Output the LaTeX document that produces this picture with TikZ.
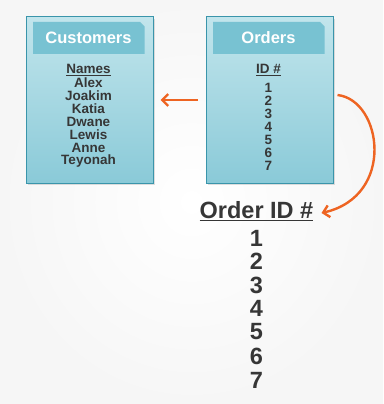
\documentclass[tikz,border=0pt]{standalone}
\usepackage{fontspec}
\setmainfont{Liberation Sans}
\usepackage{xcolor}
\usetikzlibrary{positioning, arrows.meta, calc, shadows}

\definecolor{boxtop}{HTML}{C2E5EC}
\definecolor{boxbot}{HTML}{8ACAD8}
\definecolor{boxline}{HTML}{3A95AB}
\definecolor{headfill}{HTML}{78C2D2}
\definecolor{txtdark}{HTML}{363636}
\definecolor{arrorange}{HTML}{EE6422}

\tikzset{
    tablebox/.style={draw=boxline, line width=1pt, top color=boxtop, bottom color=boxbot,
        minimum width=127pt, minimum height=166pt, inner sep=0pt,
        drop shadow={shadow xshift=1.5pt, shadow yshift=-2pt, opacity=0.25}},
    headtxt/.style={text=white, font=\bfseries\fontsize{16.5}{17}\selectfont},
    celltxt/.style={text=txtdark, font=\bfseries\fontsize{13.5}{13}\selectfont, inner sep=0pt},
    bigtxt/.style={text=txtdark, font=\bfseries\fontsize{23.5}{23}\selectfont, inner sep=0pt},
    linkarrow/.style={draw=arrorange, line width=2.4pt, -{Straight Barb[length=6pt, width=12pt]}}
}

\begin{document}
\begin{tikzpicture}[x=1pt, y=-1pt]
    % ---------------- BACKGROUND ----------------
    \shade[inner color=white, outer color=gray!7] (0,0) rectangle (383,404);
    \useasboundingbox (0,0) rectangle (383,404);

    % ---------------- LEFT TABLE (Customers) ----------------
    \node[tablebox] (custbox) at (89.5,100) {};
    \fill[headfill] (33,22) -- (140,22) -- (144.5,26.5) -- (144.5,54) -- (33,54) -- cycle;
    \node[headtxt] (custhead) at (88.5,38) {Customers};
    \node[celltxt] (custcol) at (88.5,70) {\underline{Names}};

    % Populate Names
    \node[celltxt] (cust1) at (88.5,83) {Alex};
    \node[celltxt] (cust2) at (88.5,96) {Joakim};
    \node[celltxt] (cust3) at (88.5,109) {Katia};
    \node[celltxt] (cust4) at (88.5,122) {Dwane};
    \node[celltxt] (cust5) at (88.5,135) {Lewis};
    \node[celltxt] (cust6) at (88.5,148) {Anne};
    \node[celltxt] (cust7) at (88.5,161) {Teyonah};

    % ---------------- RIGHT TABLE (Orders) ----------------
    \node[tablebox] (ordbox) at (269.5,100) {};
    \fill[headfill] (213,22) -- (320,22) -- (324.5,26.5) -- (324.5,54) -- (213,54) -- cycle;
    \node[headtxt] (ordhead) at (268.5,38) {Orders};
    \node[celltxt] (ordcol) at (268.5,70) {\underline{ID \#}};

    % Populate IDs
    \node[celltxt] (ord1) at (268.5,88) {1};
    \node[celltxt] (ord2) at (268.5,101) {2};
    \node[celltxt] (ord3) at (268.5,114) {3};
    \node[celltxt] (ord4) at (268.5,127) {4};
    \node[celltxt] (ord5) at (268.5,140) {5};
    \node[celltxt] (ord6) at (268.5,153) {6};
    \node[celltxt] (ord7) at (268.5,166) {7};

    % ---------------- RESULT COLUMN ----------------
    \node[bigtxt] (rescol) at (256.5,211) {\underline{Order ID \#}};
    \node[bigtxt] (res1) at (256.5,238) {1};
    \node[bigtxt] (res2) at (256.5,261) {2};
    \node[bigtxt] (res3) at (256.5,285) {3};
    \node[bigtxt] (res4) at (256.5,308) {4};
    \node[bigtxt] (res5) at (256.5,332) {5};
    \node[bigtxt] (res6) at (256.5,356) {6};
    \node[bigtxt] (res7) at (256.5,380) {7};

    % Links
    \draw[linkarrow, shorten <=8pt, shorten >=7pt] (ordbox.west) -- (custbox.east);
    \coordinate (linkstart) at ($(ordbox.east)+(4pt,5pt)$);
    \draw[linkarrow] (linkstart) .. controls (382,100) and (396,196) .. ($(rescol.east)+(8pt,-2pt)$);
\end{tikzpicture}
\end{document}
